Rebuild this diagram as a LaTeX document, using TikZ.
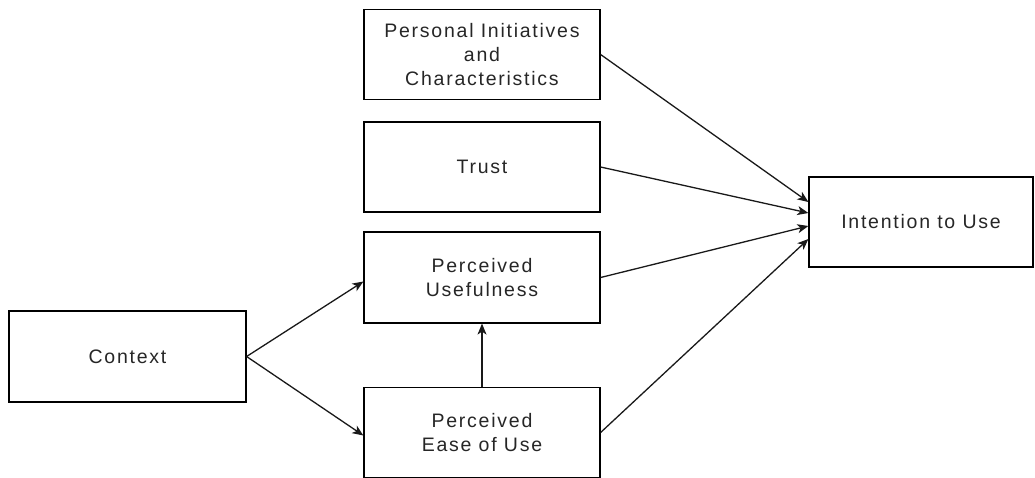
\documentclass[tikz,border=0pt]{standalone}
\usepackage{fontspec}
\setmainfont{Liberation Sans}[LetterSpace=9]
\usetikzlibrary{arrows.meta}
\begin{document}
\begin{tikzpicture}[x=1pt,y=-1pt,
  box/.style={draw=black,line width=1.2pt,rectangle,minimum width=236pt,minimum height=90pt,
    inner sep=0pt,align=center,text=black!85,font=\fontsize{19.5pt}{24pt}\selectfont},
  link/.style={draw=black!90,line width=1.3pt,-{Stealth[length=11pt,width=9pt,inset=3pt]}}]
  \useasboundingbox (0,0) rectangle (1035,477);
  % factor boxes
  \node[box] (pic) at (482,54.5) {Personal Initiatives\\and\\Characteristics};
  \node[box] (trust) at (482,167) {Trust};
  \node[box,minimum height=91pt] (pu) at (482,277.5) {Perceived\\Usefulness};
  \node[box] (peou) at (482,432.5) {Perceived\\Ease of Use};
  \node[box,minimum width=237pt,minimum height=91pt] (ctx) at (127.5,356.5) {Context};
  \node[box,minimum width=224pt] (itu) at (921,222) {Intention to Use};
  % influences
  \draw[link] (ctx.east) -- ([yshift=-4pt]pu.west);
  \draw[link] (ctx.east) -- ([yshift=-3pt]peou.west);
  \draw[link] (peou.north) -- (pu.south);
  \draw[link] (pic.east) -- ([yshift=20pt]itu.west);
  \draw[link] (trust.east) -- ([yshift=9pt]itu.west);
  \draw[link] (pu.east) -- ([yshift=-4pt]itu.west);
  \draw[link] (peou.east) -- ([yshift=-17pt]itu.west);
\end{tikzpicture}
\end{document}
